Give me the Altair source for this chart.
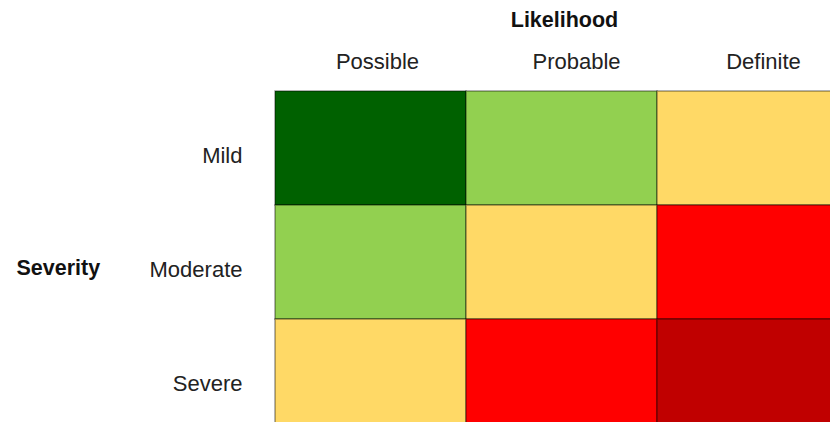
import altair as alt
import pandas as pd

likelihood = ["Possible", "Probable", "Definite"]
severity = ["Mild", "Moderate", "Severe"]
risk_grid = [
    ["Very Low", "Low", "Medium"],
    ["Low", "Medium", "High"],
    ["Medium", "High", "Very High"],
]
risk_levels = ["Very Low", "Low", "Medium", "High", "Very High"]
risk_colors = ["#006100", "#92D050", "#FFD966", "#FF0000", "#C00000"]

rows = []
for i, s in enumerate(severity):
    for j, l in enumerate(likelihood):
        rows.append({"Severity": s, "Likelihood": l, "Risk": risk_grid[i][j]})
df = pd.DataFrame(rows)

FONT = "Liberation Sans"
LFS = 22
TFS = 21.5

chart = (
    alt.Chart(df)
    .mark_rect(stroke="#000000", strokeOpacity=0.4, strokeWidth=1.5)
    .encode(
        x=alt.X(
            "Likelihood:N",
            sort=likelihood,
            scale=alt.Scale(paddingInner=0, paddingOuter=0),
            axis=alt.Axis(
                orient="top",
                labelAngle=0,
                domain=False,
                ticks=False,
                tickSize=0,
                labelPadding=23,
                labelBaseline="alphabetic",
                labelOffset={"expr": "datum.value == 'Possible' ? 7 : datum.value == 'Probable' ? 15 : 11"},
                labelFont=FONT,
                labelFontSize=LFS,
                labelColor="#222222",
                title="Likelihood",
                titleFont=FONT,
                titleFontSize=TFS,
                titleFontWeight="bold",
                titleColor="#111111",
                titleBaseline="alphabetic",
                titleAlign="center",
                titleX=289,
                titleY=-65,
            ),
        ),
        y=alt.Y(
            "Severity:N",
            sort=severity,
            scale=alt.Scale(paddingInner=0, paddingOuter=0),
            axis=alt.Axis(
                orient="left",
                domain=False,
                ticks=False,
                tickSize=0,
                labelPadding=33,
                labelAlign="right",
                labelBaseline="middle",
                labelOffset=8,
                labelFont=FONT,
                labelFontSize=LFS,
                labelColor="#222222",
                title="Severity",
                titleFont=FONT,
                titleFontSize=TFS,
                titleFontWeight="bold",
                titleColor="#111111",
                titleAngle=0,
                titleAlign="left",
                titleBaseline="alphabetic",
                titleX=-259,
                titleY=183,
            ),
        ),
        color=alt.Color(
            "Risk:N",
            scale=alt.Scale(domain=risk_levels, range=risk_colors),
            legend=None,
        ),
    )
    .properties(
        width=573,
        height=342,
        autosize=alt.AutoSizeParams(type="none"),
        padding={"left": 267, "top": 83, "right": -18, "bottom": -11},
    )
    .configure_view(stroke=None)
)

chart.save("out.html", embed_options={"renderer": "svg", "actions": False})
